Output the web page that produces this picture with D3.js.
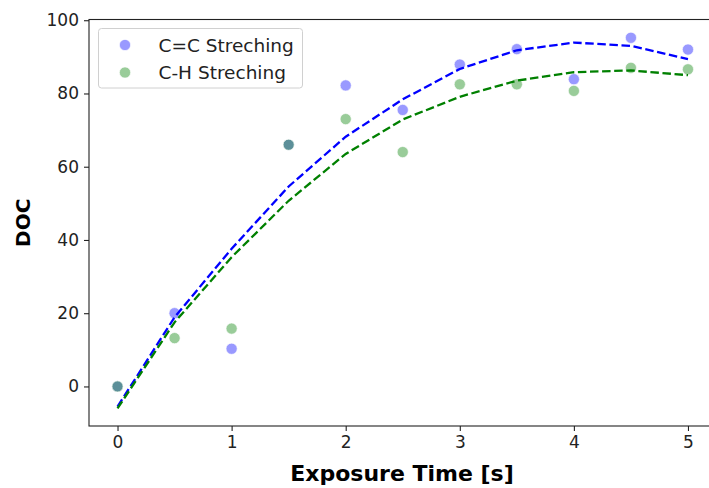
<!DOCTYPE html>
<html>
<head>
<meta charset="utf-8">
<script src="https://cdn.jsdelivr.net/npm/d3@7"></script>
<style>
html,body{margin:0;padding:0;background:#fff;}
svg{display:block;font-family:"DejaVu Sans",sans-serif;}
</style>
</head>
<body>
<svg id="chart" width="709" height="488"></svg>
<script>
const times = [0, 0.5, 1, 1.5, 2, 2.5, 3, 3.5, 4, 4.5, 5];
const ccValues = [0, 20.0, 10.3, 66.0, 82.2, 75.5, 87.9, 92.1, 83.9, 95.2, 92.0];
const chValues = [0, 13.2, 15.8, 66.0, 73.0, 64.0, 82.5, 82.5, 80.7, 87.0, 86.6];
const ccFit = [-5.5, 18.9, 37.6, 54.6, 68.2, 78.4, 86.7, 91.8, 93.9, 93.0, 89.4];
const chFit = [-6.0, 17.5, 35.3, 50.7, 63.5, 72.9, 79.1, 83.5, 85.8, 86.3, 85.0];
const xTicks = [0, 1, 2, 3, 4, 5];
const yTicks = [0, 20, 40, 60, 80, 100];
const seriesNames = ["C=C Streching", "C-H Streching"];

(function () {
const svg = d3.select("#chart");
const mLeft = 89, mTop = 19.5, mRight = 716.5, mBottom = 426;
const x = d3.scaleLinear().domain([-0.25, 5.25]).range([mLeft, mRight]);
const y = d3.scaleLinear().domain([-10.8, 100.2]).range([mBottom, mTop]);

const pointColors = ["rgba(0,0,255,0.4)", "rgba(0,128,0,0.4)"];
const lineColors = ["#0000ff", "#008000"];

// scatter
[ccValues, chValues].forEach((vals, i) => {
  svg.append("g").selectAll("circle").data(vals).join("circle")
    .attr("cx", (d, j) => x(times[j]))
    .attr("cy", d => y(d))
    .attr("r", 5.6)
    .attr("fill", pointColors[i])
    .attr("stroke", "rgba(255,255,255,0.8)")
    .attr("stroke-width", 0.8);
});

// fit lines
const line = d3.line().x((d, j) => x(times[j])).y(d => y(d));
[ccFit, chFit].forEach((vals, i) => {
  svg.append("path").datum(vals)
    .attr("d", line)
    .attr("fill", "none")
    .attr("stroke", lineColors[i])
    .attr("stroke-width", 2.3)
    .attr("stroke-dasharray", "8.5,3.6");
});

// axes
const xAxis = d3.axisBottom(x).tickValues(xTicks).tickFormat(d3.format("d")).tickSize(5).tickPadding(5);
const yAxis = d3.axisLeft(y).tickValues(yTicks).tickFormat(d3.format("d")).tickSize(5).tickPadding(5);
const gx = svg.append("g").attr("transform", `translate(0,${mBottom})`).call(xAxis);
const gy = svg.append("g").attr("transform", `translate(${mLeft},0)`).call(yAxis);
[gx, gy].forEach(g => {
  g.select(".domain").remove();
  g.selectAll(".tick line").attr("stroke", "#222").attr("stroke-width", 1.1);
  g.selectAll(".tick text").attr("fill", "#222").style("font-size", "17px").style("font-family", "DejaVu Sans");
});

// spines
svg.append("rect").attr("x", mLeft).attr("y", mTop).attr("width", mRight - mLeft).attr("height", mBottom - mTop)
  .attr("fill", "none").attr("stroke", "#222").attr("stroke-width", 1.1);

// axis labels
svg.append("text").attr("x", 402).attr("y", 481)
  .attr("text-anchor", "middle").style("font-size", "22px").style("font-weight", "bold")
  .text("Exposure Time [s]");
svg.append("text").attr("transform", `translate(30,${(mTop + mBottom) / 2}) rotate(-90)`)
  .attr("text-anchor", "middle").style("font-size", "20px").style("font-weight", "bold")
  .text("DOC");

// legend
const lg = svg.append("g");
lg.append("rect").attr("x", 98.5).attr("y", 28.5).attr("width", 204).attr("height", 59.5)
  .attr("rx", 3).attr("fill", "rgba(255,255,255,0.8)").attr("stroke", "#d0d0d0").attr("stroke-width", 1);
seriesNames.forEach((name, i) => {
  const cy = 45 + i * 27.5;
  lg.append("circle").attr("cx", 125).attr("cy", cy).attr("r", 5.6)
    .attr("fill", pointColors[i]).attr("stroke", "rgba(255,255,255,0.8)").attr("stroke-width", 0.8);
  lg.append("text").attr("x", 158.5).attr("y", cy + 6.5).style("font-size", "18.5px").attr("fill", "#222").text(name);
});
})();
</script>
</body>
</html>
